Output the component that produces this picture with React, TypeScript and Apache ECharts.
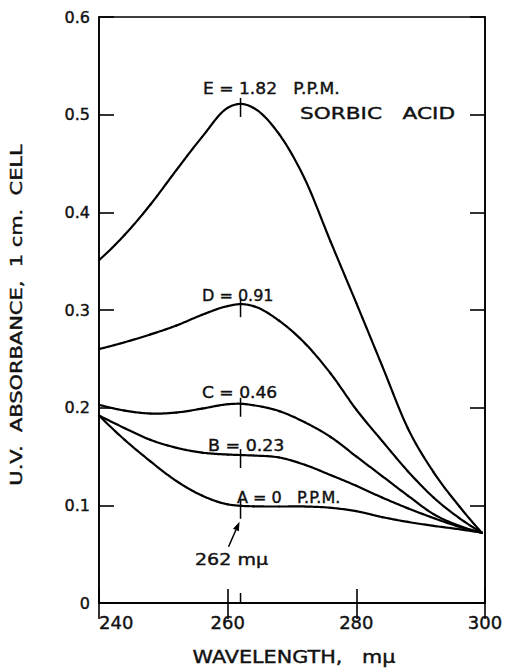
import React, { useEffect, useRef } from "react";
import * as echarts from "echarts";

// Wavelength samples (mμ) shared by every absorbance curve
const wavelengths = [240, 244, 248, 252, 256, 260, 262, 264, 268, 272, 276, 280, 284, 288, 292, 296, 299.5];

// U.V. absorbance (1 cm. cell) for each sorbic acid concentration
const curveA = [0.192, 0.167, 0.145, 0.125, 0.110, 0.101, 0.0995, 0.099, 0.0988, 0.0988, 0.0975, 0.094, 0.088, 0.083, 0.079, 0.0755, 0.072];
const curveB = [0.192, 0.179, 0.167, 0.159, 0.154, 0.152, 0.1515, 0.151, 0.149, 0.1415, 0.131, 0.120, 0.108, 0.097, 0.087, 0.078, 0.072];
const curveC = [0.203, 0.197, 0.194, 0.195, 0.199, 0.2035, 0.204, 0.2025, 0.1965, 0.185, 0.170, 0.150, 0.130, 0.110, 0.091, 0.079, 0.072];
const curveD = [0.260, 0.267, 0.275, 0.284, 0.295, 0.304, 0.306, 0.304, 0.289, 0.266, 0.235, 0.198, 0.166, 0.135, 0.108, 0.087, 0.072];
const curveE = [0.351, 0.377, 0.408, 0.443, 0.477, 0.507, 0.511, 0.507, 0.480, 0.434, 0.370, 0.307, 0.243, 0.179, 0.134, 0.099, 0.072];

const curveNames = ["A", "B", "C", "D", "E"];
const curves = [curveA, curveB, curveC, curveD, curveE];

// Absorption maximum marked on each curve
const peakWavelength = 262;

// Axis ranges and ticks
const xMin = 240;
const xMax = 300;
const xStep = 20;
const yMin = 0;
const yMax = 0.6;
const yStep = 0.1;

const FONT = '"DejaVu Sans", "Liberation Sans", sans-serif';
const INK = "#111";

// Slope at sample i of a smooth curve through (xs, ys): three-point (parabolic) derivative
function slopeAt(xs: number[], ys: number[], i: number): number {
  const n = xs.length;
  if (i === 0) {
    const h0 = xs[1] - xs[0];
    const h1 = xs[2] - xs[1];
    const d0 = (ys[1] - ys[0]) / h0;
    const d1 = (ys[2] - ys[1]) / h1;
    return d0 + ((d0 - d1) * h0) / (h0 + h1);
  }
  if (i === n - 1) {
    const h0 = xs[n - 2] - xs[n - 3];
    const h1 = xs[n - 1] - xs[n - 2];
    const d0 = (ys[n - 2] - ys[n - 3]) / h0;
    const d1 = (ys[n - 1] - ys[n - 2]) / h1;
    return d1 + ((d1 - d0) * h1) / (h0 + h1);
  }
  const h0 = xs[i] - xs[i - 1];
  const h1 = xs[i + 1] - xs[i];
  const d0 = (ys[i] - ys[i - 1]) / h0;
  const d1 = (ys[i + 1] - ys[i]) / h1;
  return (d0 * h1 + d1 * h0) / (h0 + h1);
}

export default function App() {
  const ref = useRef<HTMLDivElement | null>(null);

  useEffect(() => {
    if (!ref.current) return;
    const chart = echarts.init(ref.current, undefined, { renderer: "svg" });

    const peakIndex = wavelengths.indexOf(peakWavelength);
    const peakMarks = curves.map((c) => [peakWavelength, c[peakIndex]]);

    // Each curve is a custom series: every sample draws a cubic Hermite
    // segment to the next one, so the spectrum reads as one smooth stroke.
    const curveSeries = curves.map((c, k) => ({
      name: curveNames[k],
      type: "custom",
      data: wavelengths.map((w, i) => [w, c[i]]),
      z: 3,
      renderItem: (params: any, api: any) => {
        const i = params.dataIndex;
        if (i >= wavelengths.length - 1) return { type: "group", children: [] };
        const x0 = wavelengths[i];
        const x1 = wavelengths[i + 1];
        const y0 = c[i];
        const y1 = c[i + 1];
        const h = x1 - x0;
        const m0 = slopeAt(wavelengths, c, i);
        const m1 = slopeAt(wavelengths, c, i + 1);
        const pts: number[][] = [];
        const steps = 16;
        for (let s = 0; s <= steps; s++) {
          const t = s / steps;
          const t2 = t * t;
          const t3 = t2 * t;
          const y =
            (2 * t3 - 3 * t2 + 1) * y0 +
            (t3 - 2 * t2 + t) * h * m0 +
            (-2 * t3 + 3 * t2) * y1 +
            (t3 - t2) * h * m1;
          pts.push(api.coord([x0 + t * h, y]));
        }
        return {
          type: "polyline",
          shape: { points: pts },
          style: { stroke: "#000", lineWidth: 2.2, fill: null, lineCap: "round", lineJoin: "round" },
        };
      },
    }));

    const tickAxisCommon = {
      axisLine: { show: true, lineStyle: { color: "#000", width: 1.6 } },
      splitLine: { show: false },
    };
    const tickStyle = { color: "#000", width: 1.6 };

    chart.setOption({
      animation: false,
      backgroundColor: "#fff",
      grid: {
        left: 99,
        right: 26,
        top: 17,
        bottom: 65,
        show: true,
        borderColor: "#000",
        borderWidth: 1.6,
      },
      xAxis: [
        {
          type: "value",
          min: xMin,
          max: xMax,
          interval: xStep,
          position: "bottom",
          ...tickAxisCommon,
          axisTick: { show: true, inside: true, length: 14, lineStyle: tickStyle },
          axisLabel: {
            show: true,
            fontFamily: FONT,
            fontSize: 18,
            color: INK,
            textBorderColor: INK,
            textBorderWidth: 0.4,
            margin: 10,
            alignMinLabel: "left",
          },
        },
        {
          type: "value",
          min: xMin,
          max: xMax,
          interval: xStep,
          position: "top",
          ...tickAxisCommon,
          axisTick: { show: true, inside: true, length: 16, lineStyle: tickStyle },
          axisLabel: { show: false },
        },
      ],
      yAxis: [
        {
          type: "value",
          min: yMin,
          max: yMax,
          interval: yStep,
          position: "left",
          ...tickAxisCommon,
          axisTick: { show: true, inside: true, length: 15, lineStyle: tickStyle },
          axisLabel: {
            show: true,
            fontFamily: FONT,
            fontSize: 16,
            color: INK,
            textBorderColor: INK,
            textBorderWidth: 0.4,
            margin: 9,
            formatter: (v: number) => (v === 0 ? "0" : v.toFixed(1)),
          },
        },
        {
          type: "value",
          min: yMin,
          max: yMax,
          interval: yStep,
          position: "right",
          ...tickAxisCommon,
          axisTick: { show: true, inside: true, length: 15, lineStyle: tickStyle },
          axisLabel: { show: false },
        },
      ],
      series: [
        ...curveSeries,
        {
          // short vertical marks where each curve crosses 262 mμ
          type: "custom",
          data: peakMarks,
          z: 4,
          renderItem: (_params: any, api: any) => {
            const p = api.coord([api.value(0), api.value(1)]);
            return {
              type: "line",
              shape: { x1: p[0], y1: p[1] - 6, x2: p[0], y2: p[1] + 13 },
              style: { stroke: "#000", lineWidth: 1.5 },
            };
          },
        },
        {
          // 262 mμ mark on the wavelength axis
          type: "custom",
          data: [[peakWavelength, yMin]],
          z: 4,
          renderItem: (_params: any, api: any) => {
            const p = api.coord([api.value(0), api.value(1)]);
            return {
              type: "line",
              shape: { x1: p[0], y1: p[1] - 10, x2: p[0], y2: p[1] },
              style: { stroke: "#000", lineWidth: 1.5 },
            };
          },
        },
      ],
    });

    // Arrow pointing at the 262 mμ mark on curve A
    const aPeak = chart.convertToPixel({ gridIndex: 0 }, [peakWavelength, curveA[peakIndex]]) as number[];
    const tip = [aPeak[0] - 1, aPeak[1] + 16];
    const tail = [aPeak[0] - 12, aPeak[1] + 41];
    const ang = Math.atan2(tip[1] - tail[1], tip[0] - tail[0]);
    const headLen = 9;
    const headW = 3.2;
    const base = [tip[0] - headLen * Math.cos(ang), tip[1] - headLen * Math.sin(ang)];
    const nx = -Math.sin(ang);
    const ny = Math.cos(ang);

    const label = (text: string, x: number, y: number, size: number, scaleX: number) => ({
      type: "text",
      x,
      y,
      scaleX,
      z: 10,
      style: {
        text,
        font: `${size}px ${FONT}`,
        fill: INK,
        stroke: INK,
        lineWidth: 0.4,
        align: "left",
        verticalAlign: "middle",
      },
    });

    chart.setOption({
      graphic: [
        label("E = 1.82   P.P.M.", 203, 89, 16, 1.07),
        label("SORBIC   ACID", 300, 113, 16, 1.35),
        label("D = 0.91", 202, 295, 16, 1.0),
        label("C = 0.46", 202, 393, 16, 1.07),
        label("B = 0.23", 208, 445, 16, 1.09),
        label("A = 0   P.P.M.", 237, 497, 16, 1.0),
        label("262 mμ", 195, 560, 16, 1.19),
        {
          type: "line",
          z: 10,
          shape: { x1: tail[0], y1: tail[1], x2: base[0], y2: base[1] },
          style: { stroke: "#000", lineWidth: 1.5 },
        },
        {
          type: "polygon",
          z: 10,
          shape: {
            points: [
              tip,
              [base[0] + nx * headW, base[1] + ny * headW],
              [base[0] - nx * headW, base[1] - ny * headW],
            ],
          },
          style: { fill: "#000" },
        },
        {
          type: "text",
          x: 16,
          y: 315,
          rotation: Math.PI / 2,
          scaleX: 1.31,
          z: 10,
          style: {
            text: "U.V.  ABSORBANCE,  1 cm.  CELL",
            font: `16px ${FONT}`,
            fill: INK,
            stroke: INK,
            lineWidth: 0.4,
            align: "center",
            verticalAlign: "middle",
          },
        },
        {
          type: "text",
          x: 294,
          y: 657,
          scaleX: 1.22,
          z: 10,
          style: {
            text: "WAVELENGTH,   mμ",
            font: `17px ${FONT}`,
            fill: INK,
            stroke: INK,
            lineWidth: 0.4,
            align: "center",
            verticalAlign: "middle",
          },
        },
      ],
    });

    return () => {
      chart.dispose();
    };
  }, []);

  return (
    <div
      ref={ref}
      style={{ position: "absolute", left: 0, top: 0, width: 511, height: 668, background: "#fff" }}
    />
  );
}
